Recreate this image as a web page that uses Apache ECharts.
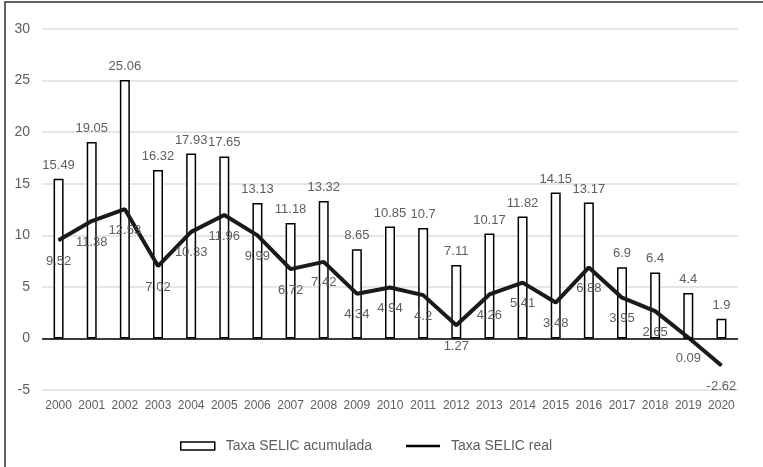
<!DOCTYPE html>
<html>
<head>
<meta charset="utf-8">
<script src="https://cdn.jsdelivr.net/npm/echarts@6/dist/echarts.min.js"></script>
<style>
  html, body { margin: 0; padding: 0; background: #fff; }
  #main { width: 763px; height: 467px; }
</style>
</head>
<body>
<div id="main"></div>
<script>
var years = ['2000', '2001', '2002', '2003', '2004', '2005', '2006', '2007', '2008', '2009', '2010',
    '2011', '2012', '2013', '2014', '2015', '2016', '2017', '2018', '2019', '2020'];
var selicAcumulada = [15.49, 19.05, 25.06, 16.32, 17.93, 17.65, 13.13, 11.18, 13.32, 8.65, 10.85,
    10.7, 7.11, 10.17, 11.82, 14.15, 13.17, 6.9, 6.4, 4.4, 1.9];
var selicReal = [9.52, 11.38, 12.53, 7.02, 10.33, 11.96, 9.99, 6.72, 7.42, 4.34, 4.94,
    4.2, 1.27, 4.26, 5.41, 3.48, 6.88, 3.95, 2.65, 0.09, -2.62];

var chartDom = document.getElementById('main');
var myChart = echarts.init(chartDom);
var option;

var textGray = '#5e5e5e';
var font = 'Liberation Sans';

option = {
    backgroundColor: '#fff',
    animation: false,
    textStyle: { fontFamily: font },
    graphic: [
        {
            type: 'rect',
            shape: { x: 5, y: 2, width: 800, height: 500 },
            style: { fill: 'none', stroke: '#333', lineWidth: 1.5 },
            silent: true
        }
    ],
    legend: {
        bottom: 9,
        left: 175,
        itemGap: 34,
        itemWidth: 34,
        itemHeight: 8,
        textStyle: { color: textGray, fontSize: 14, fontFamily: font, padding: [0, 0, 0, 6] },
        data: [
            { name: 'Taxa SELIC acumulada', icon: 'rect', itemStyle: { color: '#fff', borderColor: '#000', borderWidth: 1.5 } },
            { name: 'Taxa SELIC real', icon: 'path://M0,0 L30,0 L30,2 L0,2 Z', itemStyle: { color: '#000' } }
        ]
    },
    grid: {
        left: 42,
        right: 25,
        top: 29,
        bottom: 77
    },
    xAxis: {
        type: 'category',
        data: years,
        axisLine: { show: false, onZero: false },
        axisTick: { show: false },
        axisLabel: { color: textGray, fontSize: 12, margin: 10, interval: 0 }
    },
    yAxis: {
        type: 'value',
        min: -5,
        max: 30,
        interval: 5,
        axisLine: { show: false },
        axisTick: { show: false },
        axisLabel: { color: textGray, fontSize: 14, margin: 12 },
        splitLine: { lineStyle: { color: '#e6e6e6', width: 2 } }
    },
    series: [
        {
            name: 'Taxa SELIC acumulada',
            type: 'bar',
            barWidth: 10,
            data: selicAcumulada,
            itemStyle: { color: '#fff', borderColor: '#000', borderWidth: 1.5 },
            label: {
                show: true,
                position: 'top',
                distance: 7,
                color: textGray,
                fontSize: 13
            },
            markLine: {
                silent: true,
                symbol: 'none',
                label: { show: false },
                lineStyle: { color: '#000', type: 'solid', width: 1.5 },
                data: [{ yAxis: 0 }]
            }
        },
        {
            name: 'Taxa SELIC real',
            type: 'line',
            data: selicReal,
            symbol: 'circle',
            symbolSize: 1,
            itemStyle: { color: '#000' },
            lineStyle: { color: '#1a1a1a', width: 4 },
            label: {
                show: true,
                position: 'bottom',
                distance: 14,
                color: textGray,
                fontSize: 13
            }
        }
    ]
};

option && myChart.setOption(option);
</script>
</body>
</html>
